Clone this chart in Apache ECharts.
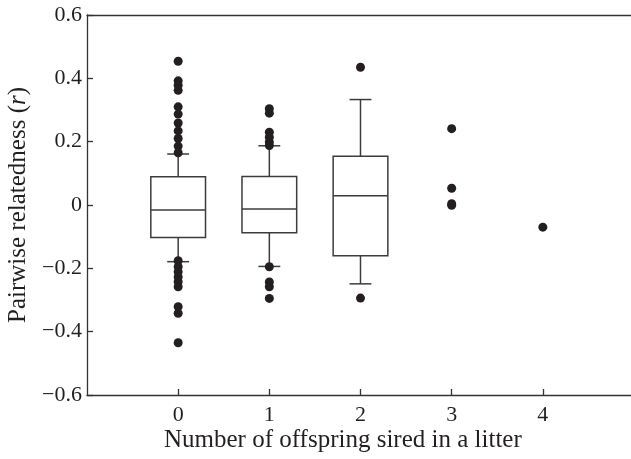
<!DOCTYPE html>
<html>
<head>
<meta charset="utf-8">
<script src="https://cdn.jsdelivr.net/npm/echarts@6/dist/echarts.min.js"></script>
<style>
  html, body { margin: 0; padding: 0; background: #fff; }
  #chart { width: 631px; height: 459px; }
</style>
</head>
<body>
<div id="chart"></div>
<script>
// 每组的箱线图统计值（组 = 一窝中所生后代数）
const groups = [0, 1, 2];
const whiskerLow = [-0.179, -0.194, -0.249];
const q1 = [-0.103, -0.088, -0.160];
const median = [-0.016, -0.013, 0.029];
const q3 = [0.089, 0.090, 0.154];
const whiskerHigh = [0.161, 0.187, 0.333];

// 离群点 / 单独点
const pointX = [
  0, 0, 0, 0, 0, 0, 0, 0, 0, 0, 0,
  0, 0, 0, 0, 0, 0, 0, 0, 0,
  1, 1, 1, 1, 1, 1,
  1, 1, 1, 1,
  2, 2,
  3, 3, 3, 3,
  4
];
const pointY = [
  0.454, 0.392, 0.378, 0.362, 0.310, 0.287, 0.259, 0.234, 0.210, 0.186, 0.165,
  -0.176, -0.195, -0.211, -0.227, -0.242, -0.258, -0.321, -0.342, -0.435,
  0.304, 0.290, 0.230, 0.214, 0.199, 0.188,
  -0.195, -0.243, -0.258, -0.295,
  0.435, -0.294,
  0.241, 0.053, 0.004, -0.001,
  -0.070
];

const xTicks = [0, 1, 2, 3, 4];

const FONT = "'Liberation Serif', 'Times New Roman', serif";
const INK = '#231f20';
const AXIS_LINE = { color: '#333', width: 1.3 };

const chart = echarts.init(document.getElementById('chart'), null, { renderer: 'canvas' });

const boxData = groups.map((g, i) => [g, whiskerLow[i], q1[i], median[i], q3[i], whiskerHigh[i]]);
const pointData = pointX.map((x, i) => [x, pointY[i]]);

/**
 * 画箱线图（箱体、中位线、须、须端短横）
 */
const renderBox = (params, api) => {
  const x = api.value(0);
  const lo = api.coord([x, api.value(1)]);
  const b1 = api.coord([x, api.value(2)]);
  const md = api.coord([x, api.value(3)]);
  const b3 = api.coord([x, api.value(4)]);
  const hi = api.coord([x, api.value(5)]);
  const half = api.size([0.6, 0])[0] / 2;
  const cap = api.size([0.24, 0])[0] / 2;
  const style = { stroke: '#3c3c3c', fill: null, lineWidth: 1.5 };
  const line = (x1, y1, x2, y2) => ({ type: 'line', shape: { x1, y1, x2, y2 }, style });
  return {
    type: 'group',
    children: [
      line(hi[0], hi[1], b3[0], b3[1]),
      line(lo[0], lo[1], b1[0], b1[1]),
      line(hi[0] - cap, hi[1], hi[0] + cap, hi[1]),
      line(lo[0] - cap, lo[1], lo[0] + cap, lo[1]),
      {
        type: 'rect',
        shape: { x: b3[0] - half, y: b3[1], width: half * 2, height: b1[1] - b3[1] },
        style: { stroke: '#3c3c3c', fill: '#fff', lineWidth: 1.5 }
      },
      line(md[0] - half, md[1], md[0] + half, md[1])
    ]
  };
};

const fmtY = (v) => {
  const r = Math.round(v * 10) / 10;
  if (r === 0) return '0';
  return (r < 0 ? '\u2212' : '') + Math.abs(r).toFixed(1);
};

const option = {
  animation: false,
  backgroundColor: '#fff',
  grid: {
    left: 87,
    right: -3,
    top: 15,
    bottom: 64,
    outerBoundsMode: 'none'
  },
  xAxis: [
    {
      type: 'value',
      min: -1,
      max: 5,
      interval: 1,
      axisLine: { show: true, onZero: false, lineStyle: AXIS_LINE },
      axisTick: { show: true, inside: true, length: 6, customValues: xTicks, lineStyle: AXIS_LINE },
      axisLabel: {
        customValues: xTicks,
        margin: 9,
        fontFamily: FONT,
        fontSize: 22,
        color: INK
      },
      splitLine: { show: false }
    },
    {
      // 顶部边框线
      type: 'value',
      position: 'top',
      min: -1,
      max: 5,
      axisLine: { show: true, onZero: false, lineStyle: AXIS_LINE },
      axisTick: { show: false },
      axisLabel: { show: false },
      splitLine: { show: false }
    }
  ],
  yAxis: {
    type: 'value',
    min: -0.6,
    max: 0.6,
    interval: 0.2,
    name: 'Pairwise relatedness ({i|r})',
    nameLocation: 'middle',
    nameGap: 55,
    nameTextStyle: {
      fontFamily: FONT,
      fontSize: 25,
      color: INK,
      rich: { i: { fontFamily: FONT, fontSize: 25, fontStyle: 'italic', color: INK } }
    },
    axisLine: { show: true, onZero: false, lineStyle: AXIS_LINE },
    axisTick: { show: true, inside: true, length: 6, lineStyle: AXIS_LINE },
    axisLabel: {
      margin: 5,
      fontFamily: FONT,
      fontSize: 22,
      color: INK,
      formatter: fmtY
    },
    splitLine: { show: false }
  },
  graphic: [
    {
      type: 'text',
      left: 164,
      top: 428,
      style: {
        text: 'Number of offspring sired in a litter',
        font: "25px 'Liberation Serif', 'Times New Roman', serif",
        fill: INK
      }
    }
  ],
  series: [
    {
      type: 'custom',
      name: 'box',
      renderItem: renderBox,
      data: boxData,
      encode: { x: 0, y: [1, 2, 3, 4, 5] },
      z: 2
    },
    {
      type: 'scatter',
      name: 'points',
      data: pointData,
      symbol: 'circle',
      symbolSize: 9,
      itemStyle: { color: INK, opacity: 1 },
      z: 3
    }
  ]
};

chart.setOption(option);
</script>
</body>
</html>
